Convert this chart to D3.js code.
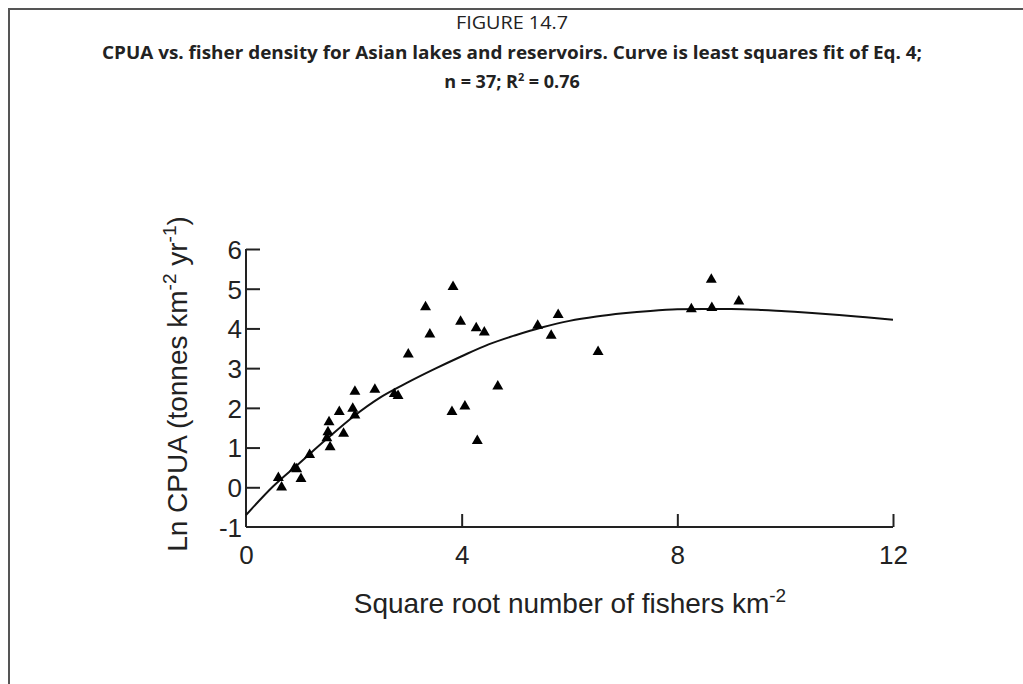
<!DOCTYPE html>
<html>
<head>
<meta charset="utf-8">
<script src="https://cdn.jsdelivr.net/npm/d3@7"></script>
<style>
  body { margin: 0; background: #fff; }
  svg { display: block; }
  .axis path, .axis line { stroke: #222; stroke-width: 2; }
  .axis text { font-family: "Liberation Sans", Arial, sans-serif; font-size: 26px; fill: #222; }
</style>
</head>
<body>
<svg width="1023" height="684"></svg>
<script>
// observed points: sqrt fishers per km2, ln CPUA
var fisherX = [0.60, 0.66, 0.90, 0.94, 1.02, 1.18, 1.54, 1.52, 1.50, 1.56,
               1.73, 1.81, 1.98, 2.02, 2.02, 2.39, 2.75, 2.82, 3.84, 3.33,
               3.98, 4.27, 4.42, 3.41, 3.01, 4.67, 3.82, 4.06, 4.29, 5.41,
               5.79, 5.66, 6.53, 8.26, 8.64, 8.63, 9.14];
var cpuaY = [0.24, 0.00, 0.48, 0.46, 0.21, 0.82, 1.64, 1.39, 1.24, 1.01,
             1.90, 1.35, 1.98, 1.81, 2.41, 2.46, 2.35, 2.30, 5.05, 4.54,
             4.17, 4.01, 3.90, 3.85, 3.35, 2.54, 1.90, 2.04, 1.17, 4.07,
             4.34, 3.82, 3.41, 4.49, 4.52, 5.23, 4.68];

// fitted curve
var fitX = [0, 0.5, 1, 1.5, 2, 2.5, 3, 3.5, 4, 4.5, 5, 5.5, 6, 6.5, 7, 7.5, 8, 8.5, 9, 9.5, 10, 10.5, 11, 11.5, 12];
var fitY = [-0.70, 0.02, 0.62, 1.22, 1.79, 2.27, 2.64, 2.98, 3.30, 3.60, 3.83, 4.03, 4.19, 4.30, 4.38, 4.44, 4.48, 4.49, 4.49, 4.47, 4.43, 4.39, 4.34, 4.28, 4.22];

var xTicks = [0, 4, 8, 12];
var yTicks = [-1, 0, 1, 2, 3, 4, 5, 6];

var svg = d3.select("svg");

// frame
svg.append("path")
    .attr("d", "M9,700 L9,9 L1030,9")
    .attr("fill", "none")
    .attr("stroke", "#555")
    .attr("stroke-width", 2);

// titles
var tfont = "'Open Sans', 'Liberation Sans', sans-serif";
svg.append("text")
    .attr("x", 512).attr("y", 29)
    .attr("text-anchor", "middle")
    .style("font-family", tfont).style("font-size", "18px").style("fill", "#222")
    .attr("textLength", 112).attr("lengthAdjust", "spacingAndGlyphs")
    .text("FIGURE 14.7");
svg.append("text")
    .attr("x", 512).attr("y", 59)
    .attr("text-anchor", "middle")
    .style("font-family", tfont).style("font-size", "18px").style("font-weight", "bold").style("fill", "#222")
    .attr("textLength", 820).attr("lengthAdjust", "spacingAndGlyphs")
    .text("CPUA vs. fisher density for Asian lakes and reservoirs. Curve is least squares fit of Eq. 4;");
var t3 = svg.append("text")
    .attr("x", 512).attr("y", 88)
    .attr("text-anchor", "middle")
    .style("font-family", tfont).style("font-size", "18px").style("font-weight", "bold").style("fill", "#222");
t3.append("tspan").text("n = 37; R");
t3.append("tspan").attr("dy", -7).style("font-size", "11px").text("2");
t3.append("tspan").attr("dy", 7).text(" = 0.76");

var x = d3.scaleLinear().domain([0, 12]).range([246, 893]);
var y = d3.scaleLinear().domain([-1, 6]).range([527, 249]);

var gx = svg.append("g")
    .attr("class", "axis")
    .attr("transform", "translate(0," + y(-1) + ")")
    .call(d3.axisTop(x).tickValues(xTicks).tickSize(13).tickSizeOuter(0).tickFormat(""));
gx.select(".domain").attr("d", "M" + x(0) + ",0H" + x(12));
gx.selectAll(".tick").filter(function(d) { return d === 0; }).select("line").remove();
gx.selectAll(".tick").append("text")
    .attr("y", 37)
    .attr("text-anchor", "middle")
    .style("fill", "#222")
    .text(function(d) { return d; });

var gy = svg.append("g")
    .attr("class", "axis")
    .attr("transform", "translate(" + x(0) + ",0)")
    .call(d3.axisRight(y).tickValues(yTicks).tickSize(14).tickSizeOuter(0).tickFormat(""));
gy.select(".domain").attr("d", "M0," + y(6) + "V" + y(-1));
gy.selectAll(".tick").filter(function(d) { return d === -1; }).select("line").remove();
gy.selectAll(".tick").append("text")
    .attr("x", -4)
    .attr("dy", "0.36em")
    .attr("text-anchor", "end")
    .style("fill", "#222")
    .text(function(d) { return d; });

// axis titles
var afont = "'Liberation Sans', Arial, sans-serif";
var xt = svg.append("text")
    .attr("x", 570).attr("y", 613)
    .attr("text-anchor", "middle")
    .style("font-family", afont).style("font-size", "28px").style("fill", "#222");
xt.append("tspan").text("Square root number of fishers km");
xt.append("tspan").attr("dy", -11).style("font-size", "19px").text("-2");

var yt = svg.append("text")
    .attr("transform", "translate(187,384) rotate(-90)")
    .attr("text-anchor", "middle")
    .style("font-family", afont).style("font-size", "28px").style("fill", "#222");
yt.append("tspan").text("Ln CPUA (tonnes km");
yt.append("tspan").attr("dy", -11).style("font-size", "19px").text("-2");
yt.append("tspan").attr("dy", 11).text(" yr");
yt.append("tspan").attr("dy", -11).style("font-size", "19px").text("-1");
yt.append("tspan").attr("dy", 11).text(")");

// fitted curve
var line = d3.line()
    .x(function(d, i) { return x(fitX[i]); })
    .y(function(d) { return y(d); })
    .curve(d3.curveMonotoneX);
svg.append("path")
    .datum(fitY)
    .attr("d", line)
    .attr("fill", "none")
    .attr("stroke", "#111")
    .attr("stroke-width", 2);

// points
svg.append("g").selectAll("path")
    .data(fisherX)
  .enter().append("path")
    .attr("transform", function(d, i) { return "translate(" + x(d) + "," + y(cpuaY[i]) + ")"; })
    .attr("d", d3.symbol().type(d3.symbolTriangle).size(52))
    .attr("fill", "#000");
</script>
</body>
</html>
